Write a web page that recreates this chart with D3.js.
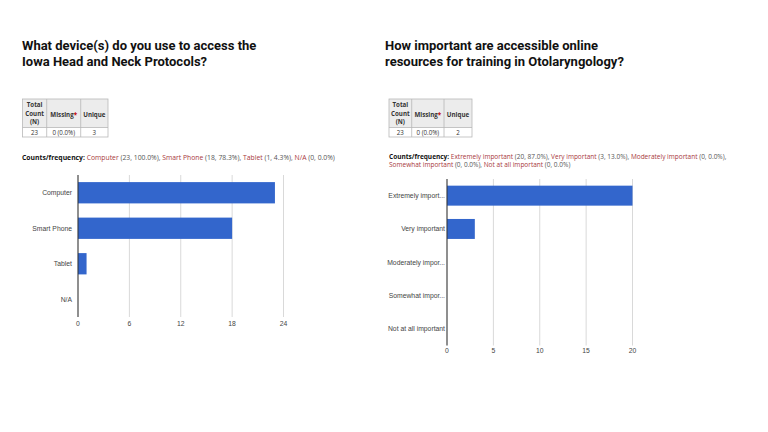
<!DOCTYPE html>
<html>
<head>
<meta charset="utf-8">
<script src="https://cdn.jsdelivr.net/npm/d3@7"></script>
<style>
  body { margin: 0; background: #fff; }
  svg { display: block; }
  .title { font-family: Roboto, "Liberation Sans", sans-serif; font-weight: 700; font-size: 13px; fill: #111; }
  .tbl { font-family: "Open Sans", sans-serif; font-size: 6.2px; fill: #333; }
  .cnt { font-family: "Open Sans", sans-serif; font-size: 6.8px; fill: #555; }
  .lbl { font-family: "Liberation Sans", Arial, sans-serif; font-size: 6.8px; fill: #444; }
</style>
</head>
<body>
<script>
// left question
var devTitle = ["What device(s) do you use to access the", "Iowa Head and Neck Protocols?"];
var devCats = ["Computer", "Smart Phone", "Tablet", "N/A"];
var devLabels = ["Computer", "Smart Phone", "Tablet", "N/A"];
var devCounts = [23, 18, 1, 0];
var devTicks = [0, 6, 12, 18, 24];
var devSummary = ["23", "0 (0.0%)", "3"];

// right question
var impTitle = ["How important are accessible online", "resources for training in Otolaryngology?"];
var impCats = ["Extremely important", "Very important", "Moderately important", "Somewhat important", "Not at all important"];
var impLabels = ["Extremely import...", "Very important", "Moderately impor...", "Somewhat impor...", "Not at all important"];
var impCounts = [20, 3, 0, 0, 0];
var impTicks = [0, 5, 10, 15, 20];
var impSummary = ["23", "0 (0.0%)", "2"];

var total = 23;

var svg = d3.select("body").append("svg")
    .attr("width", 768)
    .attr("height", 432);

function drawPanel(opt)
{
    var g = svg.append("g");

    // title
    g.append("text")
        .attr("class", "title")
        .selectAll("tspan")
        .data(opt.title)
        .enter()
        .append("tspan")
            .attr("x", opt.titleX)
            .attr("y", function(d, i) { return 50 + i * 15.5; })
            .text(function(d) { return d; });

    // summary table
    var t = opt.table;
    var colX = [t.x, t.c1, t.c2, t.x2];
    g.append("rect")
        .attr("x", t.x).attr("y", 99)
        .attr("width", t.x2 - t.x).attr("height", 28.5)
        .attr("fill", "#ececec");
    g.append("rect")
        .attr("x", t.x).attr("y", 99)
        .attr("width", t.x2 - t.x).attr("height", 38)
        .attr("fill", "none").attr("stroke", "#b8b8b8").attr("stroke-width", 0.8);
    g.append("line")
        .attr("x1", t.x).attr("x2", t.x2).attr("y1", 127.5).attr("y2", 127.5)
        .attr("stroke", "#b8b8b8").attr("stroke-width", 0.8);
    [t.c1, t.c2].forEach(function(cx) {
        g.append("line")
            .attr("x1", cx).attr("x2", cx).attr("y1", 99).attr("y2", 137)
            .attr("stroke", "#b8b8b8").attr("stroke-width", 0.8);
    });
    var mid = function(i) { return (colX[i] + colX[i + 1]) / 2; };
    var head = g.append("text").attr("class", "tbl").attr("font-weight", 700).attr("text-anchor", "middle");
    ["Total", "Count", "(N)"].forEach(function(s, i) {
        head.append("tspan").attr("x", mid(0)).attr("y", 107.3 + i * 8.2).text(s);
    });
    var miss = g.append("text").attr("class", "tbl").attr("font-weight", 700)
        .attr("text-anchor", "middle").attr("x", mid(1)).attr("y", 116.5);
    miss.append("tspan").text("Missing");
    miss.append("tspan").attr("fill", "#c00000").text("*");
    g.append("text").attr("class", "tbl").attr("font-weight", 700)
        .attr("text-anchor", "middle").attr("x", mid(2)).attr("y", 116.5).text("Unique");
    g.selectAll("text.val")
        .data(opt.summary)
        .enter()
        .append("text")
            .attr("class", "tbl val")
            .attr("text-anchor", "middle")
            .attr("x", function(d, i) { return mid(i); })
            .attr("y", 135.3)
            .text(function(d) { return d; });

    // counts / frequency
    var lines = opt.breakAt ? [opt.cats.slice(0, opt.breakAt), opt.cats.slice(opt.breakAt)] : [opt.cats];
    var k = 0;
    lines.forEach(function(list, li) {
        var tx = g.append("text").attr("class", "cnt")
            .style("font-size", opt.cntSize + "px")
            .attr("x", opt.left).attr("y", 160 + li * 7.8 - (opt.breakAt ? 1 : 0));
        if (li == 0)
            tx.append("tspan").attr("font-weight", 700).attr("fill", "#111").text("Counts/frequency: ");
        list.forEach(function(c, j) {
            var n = opt.counts[k];
            k++;
            tx.append("tspan").attr("fill", "#a8383c").text(c);
            var tail = " (" + n + ", " + (n / total * 100).toFixed(1) + "%)";
            if (k < opt.cats.length) tail += ", ";
            tx.append("tspan").text(tail);
        });
    });

    // bar chart
    var x = d3.scaleLinear().domain(opt.xDomain).range([opt.x0, opt.x1]);
    var y = d3.scaleBand().domain(opt.cats).range([opt.y0, opt.y1])
        .paddingInner(0.4).paddingOuter(0.2);

    g.selectAll("line.grid")
        .data(opt.ticks)
        .enter()
        .append("line")
            .attr("class", "grid")
            .attr("x1", function(d) { return x(d); })
            .attr("x2", function(d) { return x(d); })
            .attr("y1", opt.y0)
            .attr("y2", opt.y1)
            .attr("stroke", "#d9d9d9")
            .attr("stroke-width", 1);

    g.selectAll("rect.bar")
        .data(opt.counts)
        .enter()
        .append("rect")
            .attr("class", "bar")
            .attr("x", x(0))
            .attr("y", function(d, i) { return y(opt.cats[i]); })
            .attr("width", function(d) { return x(d) - x(0); })
            .attr("height", y.bandwidth())
            .attr("fill", "#3366cc");

    g.append("line")
        .attr("x1", x(0)).attr("x2", x(0))
        .attr("y1", opt.y0).attr("y2", opt.y1)
        .attr("stroke", "#333").attr("stroke-width", 1);

    g.selectAll("text.tick")
        .data(opt.ticks)
        .enter()
        .append("text")
            .attr("class", "lbl tick")
            .attr("text-anchor", "middle")
            .attr("x", function(d) { return x(d); })
            .attr("y", opt.y1 + opt.tickGap)
            .text(function(d) { return d; });

    g.selectAll("text.cat")
        .data(opt.labels)
        .enter()
        .append("text")
            .attr("class", "lbl cat")
            .attr("text-anchor", "end")
            .attr("x", opt.labelX)
            .attr("y", function(d, i) { return y(opt.cats[i]) + y.bandwidth() / 2 + 2.4; })
            .text(function(d) { return d; });
}

drawPanel({
    left: 22, titleX: 22, title: devTitle, cats: devCats, labels: devLabels, counts: devCounts,
    ticks: devTicks, summary: devSummary, xDomain: [0, 24], cntSize: 6.8,
    table: {x: 22.5, c1: 46.7, c2: 80.7, x2: 108},
    x0: 78, x1: 283.5, y0: 175, y1: 317, labelX: 72, tickGap: 8.5
});

drawPanel({
    left: 389, titleX: 385, title: impTitle, cats: impCats, labels: impLabels, counts: impCounts,
    ticks: impTicks, summary: impSummary, xDomain: [0, 20], breakAt: 3, cntSize: 6.5,
    table: {x: 389, c1: 411.7, c2: 444, x2: 472},
    x0: 447, x1: 632.5, y0: 179, y1: 345.5, labelX: 445, tickGap: 7.5
});
</script>
</body>
</html>
